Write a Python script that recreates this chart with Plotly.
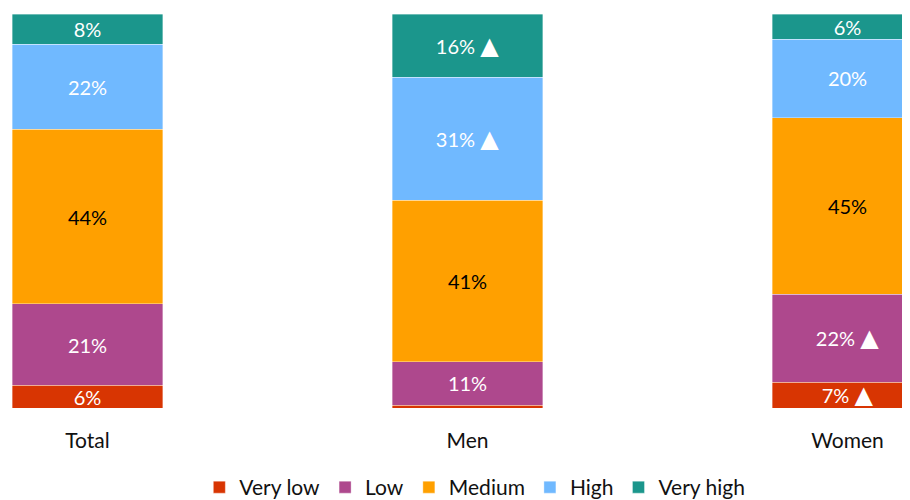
import plotly.graph_objects as go

# groups shown on the x axis
groups = ["Total", "Men", "Women"]

# share of respondents per level (%)
very_low = [5.8, 0.7, 6.6]
low = [20.6, 11.1, 22.3]
medium = [44.3, 40.9, 44.8]
high = [21.6, 31.2, 19.9]
very_high = [7.7, 16.1, 6.4]

# significant difference vs. the other group (white triangle)
very_low_sig = [False, False, True]
low_sig = [False, False, True]
medium_sig = [False, False, False]
high_sig = [False, True, False]
very_high_sig = [False, True, False]

series = [
    ("Very low", very_low, very_low_sig, "#D83502", "white"),
    ("Low", low, low_sig, "#AE488D", "white"),
    ("Medium", medium, medium_sig, "#FFA000", "black"),
    ("High", high, high_sig, "#70B9FF", "white"),
    ("Very high", very_high, very_high_sig, "#1B968C", "white"),
]

TRI = "<span style='font-size:24px;font-family:DejaVu Sans'>▲</span>"


def make_labels(values, flags):
    out = []
    for v, f in zip(values, flags):
        if v < 2:
            out.append("")
        elif f:
            out.append(f"{round(v)}% {TRI}")
        else:
            out.append(f"{round(v)}%")
    return out


fig = go.Figure()
for name, vals, flags, color, txtcolor in series:
    fig.add_trace(go.Bar(
        x=groups, y=vals, name=name,
        marker=dict(color=color, line=dict(color="rgba(255,255,255,0.6)", width=0.6)),
        text=make_labels(vals, flags),
        textposition="inside", insidetextanchor="middle",
        textfont=dict(color=txtcolor, size=20, family="Lato"),
        constraintext="none",
        width=0.397,
        hoverinfo="skip",
    ))

# the page body adds 8 px, so the plot is placed 8 px up and left;
# categories sit 380 px apart, Total centred at 79.5 px of the figure
fig.update_layout(
    barmode="stack",
    width=910, height=500,
    margin=dict(l=0, r=0, t=6, b=99),
    plot_bgcolor="white", paper_bgcolor="white",
    font=dict(family="Lato", size=21, color="#111111"),
    uniformtext=dict(minsize=20, mode="show"),
    showlegend=True,
    legend=dict(orientation="h", x=0.513, xanchor="center", y=-0.2025, yanchor="middle",
                font=dict(size=21), traceorder="normal", itemwidth=30),
    xaxis=dict(range=[-79.5 / 380, -79.5 / 380 + 910 / 380], showgrid=False,
               showline=False, zeroline=False, ticks="outside", ticklen=14,
               tickcolor="white", tickfont=dict(size=21)),
    yaxis=dict(range=[0, 100], visible=False),
)

fig.write_html("out.html")
